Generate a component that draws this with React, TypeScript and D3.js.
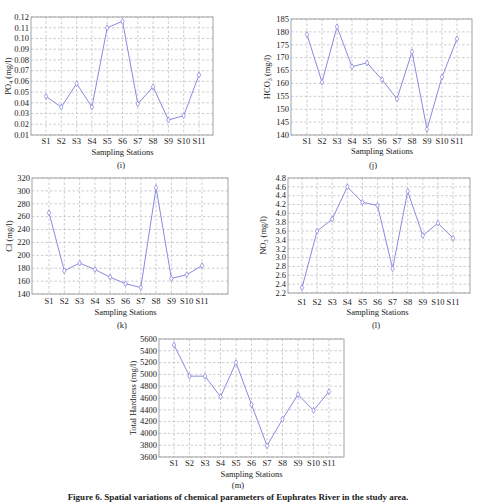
import * as d3 from "d3";
import React from "react";

const stations = ["S1", "S2", "S3", "S4", "S5", "S6", "S7", "S8", "S9", "S10", "S11"];

const po4 = [0.046, 0.036, 0.058, 0.036, 0.11, 0.116, 0.039, 0.055, 0.024, 0.028, 0.066];
const hco3 = [179, 160.5, 182, 166.5, 168, 161.5, 154, 172.3, 142.2, 162.5, 177.3];
const chloride = [266, 176, 188, 178, 166, 156, 150, 305, 164, 170, 184];
const no3 = [2.32, 3.6, 3.87, 4.6, 4.25, 4.18, 2.75, 4.5, 3.5, 3.78, 3.44];
const hardness = [5500, 4970, 4970, 4620, 5200, 4490, 3790, 4240, 4660, 4390, 4710];

const caption = "Figure 6. Spatial variations of chemical parameters of Euphrates River in the study area.";

type Panel = {
  key: string;
  letter: string;
  title: string;
  sub?: string;
  values: number[];
  domain: [number, number];
  tickCount: number;
  fmt: string;
  box: { left: number; right: number; top: number; bottom: number };
  span: [number, number];
  yTitleX: number;
  tickY: number;
  titleY: number;
  letterX: number;
  letterY: number;
};

const panels: Panel[] = [
  {
    key: "po4", letter: "(i)", title: "PO", sub: "4", values: po4,
    domain: [0.01, 0.12], tickCount: 11, fmt: ".2f",
    box: { left: 31, right: 213, top: 17, bottom: 135 }, span: [46, 199],
    yTitleX: 8, tickY: 144, titleY: 155, letterX: 121, letterY: 168,
  },
  {
    key: "hco3", letter: "(j)", title: "HCO", sub: "3", values: hco3,
    domain: [140, 185], tickCount: 9, fmt: "d",
    box: { left: 291, right: 472, top: 19, bottom: 135 }, span: [307, 457],
    yTitleX: 267, tickY: 144, titleY: 154, letterX: 373, letterY: 168,
  },
  {
    key: "cl", letter: "(k)", title: "Cl", values: chloride,
    domain: [140, 320], tickCount: 9, fmt: "d",
    box: { left: 32, right: 228, top: 178, bottom: 294 }, span: [49, 202],
    yTitleX: 9, tickY: 304, titleY: 315, letterX: 122, letterY: 328,
  },
  {
    key: "no3", letter: "(l)", title: "NO", sub: "3", values: no3,
    domain: [2.2, 4.8], tickCount: 13, fmt: ".1f",
    box: { left: 288, right: 470, top: 178, bottom: 293 }, span: [302, 453],
    yTitleX: 263, tickY: 304.5, titleY: 314.5, letterX: 376, letterY: 328,
  },
  {
    key: "th", letter: "(m)", title: "Total Hardness", values: hardness,
    domain: [3600, 5600], tickCount: 10, fmt: "d",
    box: { left: 159, right: 344, top: 339, bottom: 457 }, span: [174, 329],
    yTitleX: 133, tickY: 466, titleY: 476.5, letterX: 238, letterY: 488,
  },
];

const LINE = "#8a8ae0";
const GRID = "#b8b8b8";
const FONT = "'Liberation Serif', 'Times New Roman', serif";

const LinePanel: React.FC<{ p: Panel }> = ({ p }) => {
  const { box } = p;
  const x = d3.scalePoint<string>().domain(stations).range(p.span);
  const y = d3.scaleLinear().domain(p.domain).range([box.bottom, box.top]);
  const ticks = y.ticks(p.tickCount);
  const fmt = d3.format(p.fmt);
  const line = d3
    .line<number>()
    .x((_, i) => x(stations[i]) ?? 0)
    .y((d) => y(d));
  const diamond = d3.symbol().type(d3.symbolDiamond).size(10)();
  const midY = (box.top + box.bottom) / 2;
  const midX = (p.span[0] + p.span[1]) / 2;

  return (
    <g>
      <rect
        x={box.left}
        y={box.top}
        width={box.right - box.left}
        height={box.bottom - box.top}
        fill="#fff"
      />
      {ticks.map((t) => (
        <line
          key={`h${t}`}
          x1={box.left}
          x2={box.right}
          y1={y(t)}
          y2={y(t)}
          stroke={GRID}
          strokeWidth={0.7}
          strokeDasharray="2.5,2"
        />
      ))}
      {stations.map((s) => (
        <line
          key={`v${s}`}
          x1={x(s)}
          x2={x(s)}
          y1={box.top}
          y2={box.bottom}
          stroke={GRID}
          strokeWidth={0.7}
          strokeDasharray="2.5,2"
        />
      ))}
      <rect
        x={box.left}
        y={box.top}
        width={box.right - box.left}
        height={box.bottom - box.top}
        fill="none"
        stroke="#9a9a9a"
        strokeWidth={0.9}
      />
      <path d={line(p.values) ?? ""} fill="none" stroke={LINE} strokeWidth={1} />
      {p.values.map((v, i) => (
        <path
          key={`m${i}`}
          d={diamond ?? ""}
          transform={`translate(${x(stations[i])},${y(v)})`}
          fill="#fff"
          stroke={LINE}
          strokeWidth={0.8}
        />
      ))}
      {ticks.map((t) => (
        <text
          key={`yl${t}`}
          x={box.left - 2}
          y={y(t)}
          dy="0.33em"
          textAnchor="end"
          fontSize={8.5}
        >
          {fmt(t)}
        </text>
      ))}
      {stations.map((s) => (
        <text key={`xl${s}`} x={x(s)} y={p.tickY} textAnchor="middle" fontSize={8.5}>
          {s}
        </text>
      ))}
      <text
        transform={`translate(${p.yTitleX},${midY}) rotate(-90)`}
        textAnchor="middle"
        dy="0.33em"
        fontSize={8.5}
      >
        {p.title}
        {p.sub && (
          <tspan fontSize={6} dy="2">
            {p.sub}
          </tspan>
        )}
        <tspan dy={p.sub ? "-2" : "0"}> (mg/l)</tspan>
      </text>
      <text x={midX} y={p.titleY} textAnchor="middle" fontSize={8.5}>
        Sampling Stations
      </text>
      <text x={p.letterX} y={p.letterY} textAnchor="middle" fontSize={8.5}>
        {p.letter}
      </text>
    </g>
  );
};

export default function App() {
  return (
    <svg
      width={478}
      height={502}
      style={{ position: "absolute", left: 0, top: 0, background: "#fff" }}
      fontFamily={FONT}
      fill="#222"
    >
      <rect width={478} height={502} fill="#fff" />
      {panels.map((p) => (
        <LinePanel key={p.key} p={p} />
      ))}
      <text x={238} y={500} textAnchor="middle" fontSize={9} fontWeight="bold">
        {caption}
      </text>
    </svg>
  );
}
